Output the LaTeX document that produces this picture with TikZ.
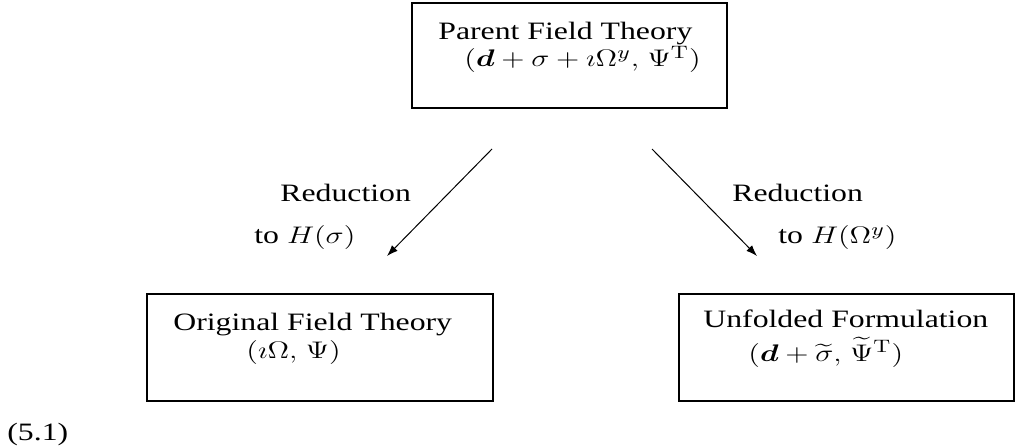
\documentclass[tikz,border=0pt]{standalone}
\usepackage{amsmath,bm}
\usepackage[no-math]{fontspec}
\setmainfont{Liberation Serif}
\usepackage{graphicx}
\usetikzlibrary{arrows.meta}
\newcommand{\sx}[1]{\scalebox{1.27}[1]{#1}}
\tikzset{
  boxnode/.style={draw, line width=1.4pt, inner sep=0pt},
  txt/.style={inner sep=0pt, anchor=base west, font=\fontsize{12.5}{15}\selectfont},
  redarrow/.style={line width=0.5pt, -{Latex[length=5.5pt,width=4pt]}}
}
\begin{document}
\begin{tikzpicture}[x=0.5pt,y=-0.5pt]
\useasboundingbox (0,0) rectangle (1016,448);
% boxes
\node[boxnode, minimum width=157.5pt, minimum height=52.5pt] (top) at (569.5,55.5) {};
\node[boxnode, minimum width=173pt, minimum height=53.5pt] (orig) at (320,347.5) {};
\node[boxnode, minimum width=167.5pt, minimum height=53.5pt] (unf) at (846.5,347.5) {};
% box texts
\node[txt] (t1) at (438,40) {\sx{Parent Field Theory}};
\node[txt] (t2) at (464,67) {\sx{$(\boldsymbol{d}+\sigma+\imath\Omega^{y},\mskip2mu \Psi^{\mathrm{T}})$}};
\node[txt] (o1) at (173,330) {\sx{Original Field Theory}};
\node[txt] (o2) at (246,358) {\sx{$(\imath\Omega,\mskip2mu \Psi)$}};
\node[txt] (u1) at (703,328) {\sx{Unfolded Formulation}};
\node[txt] (u2) at (748,361) {\sx{$(\boldsymbol{d}+\widetilde{\sigma},\mskip2mu \widetilde{\Psi}^{\mathrm{T}})$}};
% arrows
\coordinate (la) at (492,149);
\coordinate (lb) at (387,256);
\coordinate (ra) at (652,149);
\coordinate (rb) at (757,256);
\draw[redarrow] (la) -- (lb);
\draw[redarrow] (ra) -- (rb);
% arrow labels
\node[txt] (l1) at (280,202) {\sx{Reduction}};
\node[txt] (l2) at (254,244) {\sx{to $H(\sigma)$}};
\node[txt] (r1) at (732,202) {\sx{Reduction}};
\node[txt] (r2) at (778,244) {\sx{to $H(\Omega^{y})$}};
% equation number
\node[txt] (eq) at (7,440) {\sx{(5.1)}};
\end{tikzpicture}
\end{document}
